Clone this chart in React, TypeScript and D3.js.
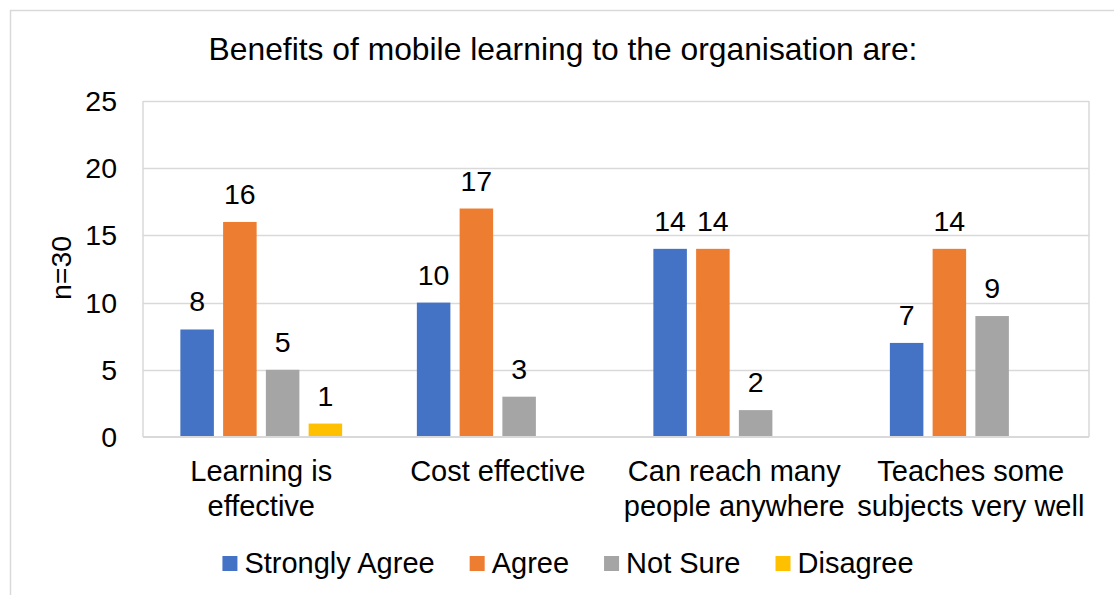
import React, { useEffect, useRef } from "react";
import * as d3 from "d3";

const categories = [
  ["Learning is", "effective"],
  ["Cost effective"],
  ["Can reach many", "people anywhere"],
  ["Teaches some", "subjects very well"],
];
const seriesNames = ["Strongly Agree", "Agree", "Not Sure", "Disagree"];
const seriesColors = ["#4472C4", "#ED7D31", "#A5A5A5", "#FFC000"];
// values per series, per category (null = no bar)
const stronglyAgree = [8, 10, 14, 7];
const agree = [16, 17, 14, 14];
const notSure = [5, 3, 2, 9];
const disagree: (number | null)[] = [1, null, null, null];
const yTicks = [0, 5, 10, 15, 20, 25];
const title = "Benefits of mobile learning to the organisation are:";
const yTitle = "n=30";

const W = 1114;
const H = 595;
const FONT = "'Liberation Sans', Arial, Helvetica, sans-serif";

export default function App() {
  const ref = useRef<SVGSVGElement>(null);

  useEffect(() => {
    const svg = d3.select(ref.current);
    svg.selectAll("*").remove();
    const series = [stronglyAgree, agree, notSure, disagree];

    const plot = { left: 143, right: 1089, top: 101, bottom: 437 };

    // outer border
    svg
      .append("rect")
      .attr("x", 10.5)
      .attr("y", 10.5)
      .attr("width", W + 50)
      .attr("height", H + 50)
      .attr("fill", "white")
      .attr("stroke", "#D9D9D9")
      .attr("stroke-width", 1.5);

    svg
      .append("text")
      .attr("x", 563)
      .attr("y", 60)
      .attr("text-anchor", "middle")
      .attr("font-size", 31.8)
      .attr("font-family", FONT)
      .attr("fill", "#000")
      .text(title);

    const y = d3.scaleLinear().domain([0, 25]).range([plot.bottom, plot.top]);
    const x0 = d3
      .scaleBand<number>()
      .domain(categories.map((_, i) => i))
      .range([plot.left, plot.right])
      .padding(0);
    const x1 = d3
      .scaleBand<number>()
      .domain(seriesNames.map((_, i) => i))
      .range([0, x0.bandwidth()])
      .paddingInner(0.216)
      .paddingOuter(0.874);

    // gridlines
    svg
      .append("g")
      .selectAll("line")
      .data(yTicks.filter((t) => t > 0))
      .join("line")
      .attr("x1", plot.left)
      .attr("x2", plot.right)
      .attr("y1", (d) => Math.round(y(d)) + 0.5)
      .attr("y2", (d) => Math.round(y(d)) + 0.5)
      .attr("stroke", "#D9D9D9")
      .attr("stroke-width", 1.5);

    // plot frame sides
    [plot.left, plot.right].forEach((xx) => {
      svg
        .append("line")
        .attr("x1", xx)
        .attr("x2", xx)
        .attr("y1", plot.top)
        .attr("y2", plot.bottom)
        .attr("stroke", "#D9D9D9")
        .attr("stroke-width", 1.5);
    });

    // bars
    series.forEach((vals, si) => {
      const g = svg.append("g");
      vals.forEach((v, ci) => {
        if (v == null) return;
        const bx = x0(ci)! + x1(si)!;
        g.append("rect")
          .attr("x", bx)
          .attr("y", y(v))
          .attr("width", x1.bandwidth())
          .attr("height", y(0) - y(v))
          .attr("fill", seriesColors[si]);
        g.append("text")
          .attr("x", bx + x1.bandwidth() / 2)
          .attr("y", y(v) - 18)
          .attr("text-anchor", "middle")
          .attr("font-size", 28.5)
          .attr("font-family", FONT)
          .attr("fill", "#000")
          .text(String(v));
      });
    });

    // x axis line
    svg
      .append("line")
      .attr("x1", plot.left)
      .attr("x2", plot.right)
      .attr("y1", plot.bottom)
      .attr("y2", plot.bottom)
      .attr("stroke", "#D9D9D9")
      .attr("stroke-width", 2);

    // y tick labels
    svg
      .append("g")
      .selectAll("text")
      .data(yTicks)
      .join("text")
      .attr("x", 117)
      .attr("y", (d) => y(d) + 10)
      .attr("text-anchor", "end")
      .attr("font-size", 28.5)
      .attr("font-family", FONT)
      .attr("fill", "#000")
      .text((d) => String(d));

    // y title
    svg
      .append("text")
      .attr("transform", `translate(71,268) rotate(-90)`)
      .attr("text-anchor", "middle")
      .attr("font-size", 28.5)
      .attr("font-family", FONT)
      .attr("fill", "#000")
      .text(yTitle);

    // category labels
    categories.forEach((lines, ci) => {
      const cx = x0(ci)! + x0.bandwidth() / 2;
      const t = svg
        .append("text")
        .attr("text-anchor", "middle")
        .attr("font-size", 29)
        .attr("font-family", FONT)
        .attr("fill", "#000");
      lines.forEach((ln, li) => {
        t.append("tspan")
          .attr("x", cx)
          .attr("y", 481 + li * 34.5)
          .text(ln);
      });
    });

    // legend
    const sq = 15;
    const gapSqText = 7;
    const gapItems = 35;
    const lg = svg.append("g");
    const widths: number[] = [];
    const items = seriesNames.map((name, i) => {
      const it = lg.append("g");
      it.append("rect")
        .attr("width", sq)
        .attr("height", sq)
        .attr("y", 556)
        .attr("fill", seriesColors[i]);
      const tx = it
        .append("text")
        .attr("x", sq + gapSqText)
        .attr("y", 573)
        .attr("font-size", 29)
        .attr("font-family", FONT)
        .attr("fill", "#000")
        .text(name);
      widths.push((tx.node() as SVGTextElement).getComputedTextLength());
      return it;
    });
    const total =
      widths.reduce((a, w) => a + w + sq + gapSqText, 0) + gapItems * (widths.length - 1);
    let cx = 568 - total / 2;
    items.forEach((it, i) => {
      it.attr("transform", `translate(${cx},0)`);
      cx += sq + gapSqText + widths[i] + gapItems;
    });
  }, []);

  return (
    <svg
      ref={ref}
      width={W}
      height={H}
      style={{ position: "absolute", left: 0, top: 0, background: "white" }}
    />
  );
}
